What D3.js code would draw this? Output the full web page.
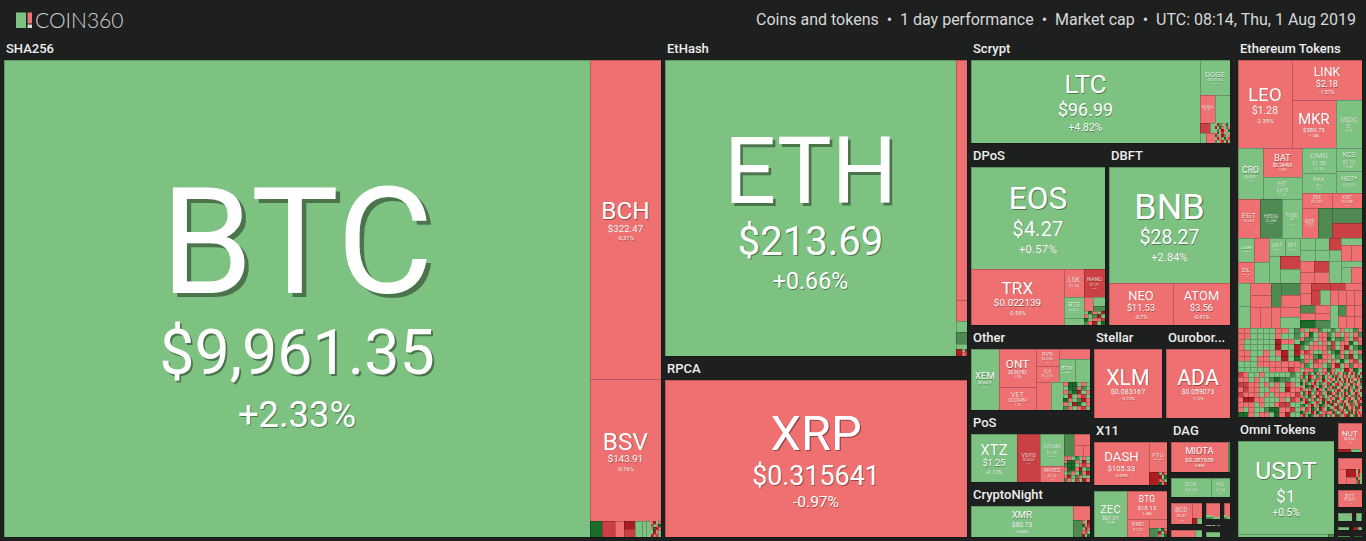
<!doctype html>
<html>
  <head>
    <meta charset="utf-8">
    <title>COIN360</title>
    <script src="https://cdn.jsdelivr.net/npm/d3@7/dist/d3.min.js"></script>
    <style>
      html, body { margin: 0; background: #1e2020; }
      svg { display: block; }
      text { font-family: Roboto, sans-serif; }
      .coin { fill: #fff; text-anchor: middle; }
      .groupName { fill: #eee; font-size: 13px; font-weight: 500; }
    </style>
  </head>
  <body>
    <div id="chart"></div>
  <script>
    var headerText = "Coins and tokens\u00a0\u00a0\u2022\u00a0\u00a01 day performance\u00a0\u00a0\u2022\u00a0\u00a0Market cap\u00a0\u00a0\u2022\u00a0\u00a0UTC: 08:14, Thu, 1 Aug 2019";

    // daily change buckets and their colours
    var changeSteps = [-10, -5, 0, 5, 10];
    var changeColours = ["#ab1f22", "#cb4143", "#ef7070", "#7dc281", "#4e8a52", "#1b6b2d"];

    var letterChange = { R: -12, M: -7, r: -1, g: 1, m: 7, G: 12 };

    function grid(weight, rows) {
      return ["v"].concat(rows.map(function(row) {
        return ["h"].concat(row.split("").map(function(ch) {
          return [weight / rows.length / row.length, letterChange[ch]];
        }));
      }));
    }

    function group(name, weight, coins) {
      return { name: name, weight: weight, coins: coins };
    }

    // leaf: [symbol, weight, change, price] or [weight, change]. "h" / "v" = side by side / stacked
    var mosaicBtc = ["rRgr", "MgrG", "rGRr", "gRrg", "RrMg"];
    var mosaicEth = ["gR", "rM"];
    var mosaicLtc = ["gRmgrGg", "RgGrgmr", "gmrRrgG", "rGgMgrg", "GrgRmgr", "gRrgGrM", "mgrMgRg"];
    var mosaicTrx = ["gGrgR", "rgmRg", "Gg rM".replace(" ", "r"), "mrRgG"];
    var mosaicOther = ["rGGgrg", "gGGrmg", "rmGRgr", "gRgrMg", "GrgmRr", "rgRGgr", "mrgrMg"];
    var mosaicPos = ["rrgmgrg", "rGGrgRg", "mGGgrMr", "rGGrRgm", "gmrgGrR", "rRgmrgg", "mrgMgRr"];
    var mosaicXmr = ["rgR", "GrM", "gRr", "rMg", "RgG"];
    var mosaicDash = ["gRr", "RgG", "rMg", "GrR"];
    var mosaicZec = ["gGr", "RgM", "rgG"];
    var mosaicNut = ["gRr", "rMg", "Grg", "mRg"];
    var mosaicDag = ["gr", "mg"];
    var mosaicSmall = ["rgMgGr"];

    var mosaicA = ["rrggggrrgm", "rrggggrggm", "rgggggRrrg", "rgggggRggR", "rrggrgrRgR", "rrgrrggRgG", "gggrrrrrrr", "gggggrrrMr"];
    var mosaicB = [
      "rgrrmggmgrggmr", "grGgrrmgrgrgrm", "rmmgrrGgmmrgMr", "GmgrgrgMgrrGgr", "mgrrrrmMgrRgmG",
      "rMrggrgmGrgrgr", "grrmGrrgmrmRgm", "mrgMrrgrgGgrMg", "rmgrrgmrRgrmrr", "grrmgrGrggRrGg"
    ];
    var mosaicC = [
      "Mrggrgggggmg", "rrgrggmGmmgg", "MMrrgrgrgMrg", "rMrrggrrgRrr", "MrrrgrgrrrrM",
      "rRRrrgggrgMr", "rrrgrggrMMgg", "rgrggmGGrrMg", "GGrgrrgGrRgg"
    ];
    var mosaicD1 = [
      "gRrmgGrgrMg", "rGgRrgmrGgr", "mgrGgMrgRrg", "GrmgrRgmgrM", "rgGmRrgGrgm", "MrgrmgRrgGr",
      "gGrRgmrMgrG", "rmgGrgRrmgr", "GrMgrGgrRmg", "grRmgrMgGrR", "mGgrRgrGmrg", "rgMrGmgRrgG",
      "GmrgRrGgrMr", "rRgGmrgMrGg"
    ];
    var mosaicD2 = [
      "RrGgMrgRmGrgRrGmgM", "gGrRmgrGrMgRgrGrRg", "MrgGrRgmRrGgMrgRrG", "rGRgmrMgGrRgrmGrgR",
      "GgrMRrgGmrgRGrMgrm", "rRmGgrGMrgRrmgGRrg", "mgGrRMgrGmRrgGrMgR", "RrgMGrmgRrGmgrRGrg",
      "gGRrmgMrGRgrMmGrRg", "MrgGRrgmGrMRgrGmrR", "rGmRgrMGrgRmGrgRMr", "GRrgMmGrRgrGMmrgRG",
      "grMGRrgmRGrgMrGmRr", "RmgrGMrRgGmrRgMGrg", "rGRmgrGMrgRmGrRgMr", "MgrRGmrgMRGrgmRGrM"
    ];

    // ----- coins per group, the weight is the tile size
    var sha256Coins = ["h",
      ["BTC", 2792.8, 2.33, "$9,961.35"],
      ["v",
        ["BCH", 227.7, -0.31, "$322.47"],
        ["BSV", 101.5, -0.76, "$143.91"],
        ["h", [2.06, 12], [2.08, -7], [1.61, -1],
          ["v", [0.97, -12], [0.82, -7]],
          [1.11, 1], [0.74, 1], [0.72, 1], grid(1.68, mosaicBtc)]]];

    var ethHashCoins = ["h",
      ["ETH", 862.8, 0.66, "$213.69"],
      ["v", [27.6, -0.5], [2.42, -1], [1.27, 2], [1.38, 7], [0.58, 1],
        ["h", [0.47, -12], grid(0.34, mosaicEth)]]];

    var rpcaCoins = ["XRP", 475.7, -0.97, "$0.315641"];

    var scryptCoins = ["h",
      ["LTC", 190.1, 4.82, "$96.99"],
      ["v",
        ["DOGE", 10.5, 1.12, "$0.003174"],
        ["h", ["MONA", 4.2, -1.1, "$1.27"], [4.2, 1]],
        ["h",
          ["v", ["h", [1, -7], [0.5, 1]], ["h", [0.6, 1], [0.9, -1]]],
          grid(3, mosaicLtc)]]];

    var dposCoins = ["v",
      ["EOS", 137.2, 0.57, "$4.27"],
      ["h",
        ["TRX", 52.4, -0.59, "$0.022139"],
        ["v",
          ["h", ["LSK", 5.6, -1.4, "$1.38"], ["NANO", 5.9, -5.6, "$1.27"]],
          ["h",
            ["v", ["BTS", 4.2, 1.6, "$0.0417"], [1.4, 1]],
            ["v",
              ["h", [1.27, -1], ["v", [1.06, 1], [0.62, 7]]],
              grid(2.95, mosaicTrx)]]]]];

    var dbftCoins = ["v",
      ["BNB", 139.2, 2.84, "$28.27"],
      ["h", ["NEO", 26.5, -0.7, "$11.53"], ["ATOM", 23.9, -0.91, "$3.56"]]];

    var otherCoins = ["h",
      ["XEM", 16.8, 1.4, "$0.0617"],
      ["v", ["ONT", 14.4, -1.13, "$0.96782"], ["VET", 8.7, -1.2, "$0.00484"]],
      ["v",
        ["h",
          ["v", ["RVN", 3.8, -1.8, "$0.0336"], ["ICX", 3.8, -0.9, "$0.2103"]],
          ["v", [3.05, -1], ["h", ["BTM", 3.57, 1.3, "$0.0822"], [3.48, 1]]]],
        ["h", [4.06, -1], [3.5, 1], grid(7.44, mosaicOther)]]];

    var posCoins = ["h",
      ["XTZ", 22.1, 1.13, "$1.25"],
      ["VSYS", 11, -7.4, "$0.0623"],
      ["v", ["QTUM", 7.5, 0.9, "$2.96"], ["WAVES", 3.8, -1.3, "$1.25"]],
      ["v",
        ["h", [2.2, 7], ["v", [1.815, -1], ["h", [0.99, -1], [0.825, -1]]]],
        grid(6.89, mosaicPos)]];

    var cryptoNightCoins = ["h",
      ["XMR", 30.6, 0.88, "$80.73"],
      ["v", [2.38, -1], ["h", [1.44, 7], grid(1.28, mosaicXmr)]]];

    var stellarCoins = ["XLM", 46.2, -0.72, "$0.083167"];
    var ouroborosCoins = ["ADA", 44.2, -1.72, "$0.059073"];

    var x11Coins = ["h",
      ["DASH", 23.65, -0.09, "$105.33"],
      ["v", ["FTO", 5.4, -1.1, "$0.0338"], ["h", [1.3, -12], grid(1.04, mosaicDash)]]];

    var equihashCoins = ["h",
      ["ZEC", 15.4, 1.2, "$67.01"],
      ["v",
        ["BTG", 11.06, -1.38, "$18.15"],
        ["h", ["KMD", 3.96, -1.1, "$1.01"],
          ["v", [1.575, -1], ["h", [0.81, 7], grid(0.765, mosaicZec)]]]]];

    var dagCoins = ["h", ["MIOTA", 17.1, -0.83, "$0.287659"], [0.6, 7]];
    var decredCoins = ["h", ["DCR", 7.5, 1.1, "$26.66"], ["HC", 3.7, 0.8, "$1.14"]];
    var bcdCoins = ["h", ["BCD", 4.2, -1.6, "$0.83"],
      ["v", [1.5, -1], ["h", [0.3, -12], [0.3, 1]]]];
    var bcdRowCoins = ["h", [1.61, -1], [0.49, 1]];
    var smallACoins = ["v", [1.56, -1], grid(0.52, mosaicDag)];
    var smallBCoins = grid(0.5, mosaicSmall);
    var smallCCoins = [1, 1];
    var smallDCoins = ["v", [0.72, -1], grid(0.24, mosaicDag)];

    var ethTokenTop = ["h",
      ["LEO", 47.5, -2.39, "$1.28"],
      ["v",
        ["LINK", 27.65, -1.57, "$2.18"],
        ["h", ["MKR", 21.1, -1.34, "$589.73"], ["USDC", 12.85, 0.3, "$1"]]]];

    var ethTokenLeft = ["v",
      ["h", ["CRO", 12.75, 1.2, "$0.0517"],
        ["v", ["BAT", 11.31, -1.21, "$0.24496"], ["HT", 8.58, 1.1, "$4.75"]]],
      ["h", ["EGT", 8.58, -1.4, "$0.0233"], ["HEDG", 8.58, 6.1, "$0.5988"], ["TUSD", 7.8, 0.4, "$1"]]];

    var ethTokenRight = ["v",
      ["h",
        ["v", ["OMG", 8.04, 1.3, "$1.55"], ["PAX", 6.7, 0.2, "$1"]],
        ["v", ["KCS", 5.83, 1.4, "$1.72"], ["HOT*", 5.83, 1.1, "$0.00118"]]],
      ["v",
        ["h", ["ZRX", 4.5, -1.1, "$0.2361"], ["KNT", 4.5, -1.3, "$0.0588"]],
        ["h", ["REP", 4.65, -1.5, "$12.92"], [4.35, 7],
          ["v", [4.5, 7], [4.5, -7]]]]];

    var ethTokenRow3 = ["h",
      ["h",
        ["v",
          ["h", ["LAMB", 3.84, 1.3, "$0.0381"], [3.6, -1]],
          ["h", ["ZIL", 3.36, -1.2, "$0.0127"], [3.15, 1]]],
        ["v",
          ["h", ["GNT", 2.79, 1.1, "$0.0661"], ["EKT", 2.79, 1.2, "$0.0473"]],
          ["h", [2.84, 1], ["v", [2.67, -7], [2.87, 1]]]]],
      ["v",
        ["h",
          ["v", ["h", [1.8, 1], [1.68, 1]], ["h", [1.65, 1], [1.54, 1]]],
          ["v", [1.44, -7], [1.32, 1]],
          ["v", [1.47, 1], ["h", [1.6, -1], [1.76, -1]]]],
        ["h",
          ["v", ["h", [1.54, -1], [1.65, -7]], ["h", [1.54, -1], [1.65, -1]]],
          [2.64, 1],
          ["v", [1.26, 1], ["h", [1.6, 1], [1.76, -1]]]]]];

    var ethTokenRow4 = ["h",
      ["h",
        ["v", [2.6, 1], [2.46, 1]],
        ["v",
          ["h", ["v", [2.47, -1], [2.47, -1]], [2.19, 7], ["v", [2.24, 7], [2.24, -1]]],
          ["h", [2.2, -1], [2.31, -1], [2, -1], ["v", [2.05, -1], [2.05, 1]]]]],
      ["v",
        ["h",
          ["v", [1.1, -1], [1.21, -1]],
          ["v", [1.33, -7], ["h", [1.26, -7], [1.4, 1]]],
          ["v", ["h", [1.05, -7], [1.19, -1]], ["h", [1.12, -1], [1.12, -1], [1.12, -1], [1.12, -1]]]],
        ["h",
          ["v", ["h", [1.2, 7], [1.2, -1]], ["h", [1.05, -1], [1.05, -1]], ["h", [1.2, 12], [1.2, 7]]],
          [1.84, 1],
          ["v", [0.88, 7], [0.96, -1]],
          ["v", [0.92, -1], [0.92, -1]],
          ["v", [0.92, -1], [0.92, -1]]]]];

    var ethereumTokenCoins = ["v",
      ethTokenTop,
      ["h", ethTokenLeft, ethTokenRight],
      ethTokenRow3,
      ethTokenRow4,
      ["h", grid(27.6, mosaicA), grid(27.6, mosaicB)],
      ["h", grid(27.6, mosaicC),
        ["h", grid(13.4, mosaicD1), grid(14.2, mosaicD2)]]];

    var omniCoins = ["v", ["USDT", 89.3, 0.5, "$1"], ["h", [2.7, 1], [0.18, 7]]];
    var nutCoins = ["v", ["NUT", 6.48, -1.2, "$0.0341"], ["h", [0.39, -12], [0.27, 1], [0.06, -1]]];
    var nextTokenCoins = ["v", [2.64, -1],
      ["h", [1.12, -1], ["v", [0.7, -12], [0.7, -1]], grid(0.84, mosaicNut)]];
    var bttCoins = ["BTT", 4.3, -1.1, "$0.00073"];
    var tinyACoins = ["h", [1, 1], grid(0.1, mosaicDag)];
    var tinyBCoins = ["h", [0.8, 1], [0.2, 7]];
    var tinyCCoins = [0.5, 1];
    var tinyDCoins = ["h", [0.5, -12], [0.4, 1]];
    var tinyECoins = [0.5, 7];
    var tinyFCoins = [0.5, 12];

    // ----- groups, the weight is the share of the page a group takes
    var groupTree = ["h",
      group("SHA256", 3311.6, sha256Coins),
      ["v", group("EtHash", 979.2, ethHashCoins), group("RPCA", 553.9, rpcaCoins)],
      ["v",
        group("Scrypt", 281.4, scryptCoins),
        ["h", group("DPoS", 252.1, dposCoins), group("DBFT", 226.6, dbftCoins)],
        ["h",
          ["v", group("Other", 104.6, otherCoins), group("PoS", 88.6, posCoins), group("CryptoNight", 67.7, cryptoNightCoins)],
          ["v",
            ["h", group("Stellar", 66.5, stellarCoins), group("Ourobor...", 63.7, ouroborosCoins)],
            ["h",
              ["v", group("X11", 51.59, x11Coins), group("", 40.04, equihashCoins)],
              ["v",
                group("DAG", 34, dagCoins),
                group("", 15.75, decredCoins),
                ["h",
                  ["v", group("", 9.45, bcdCoins), group("", 4.55, bcdRowCoins)],
                  ["v", group("", 3.96, smallACoins), group("", 1.26, smallBCoins), group("", 1.98, smallCCoins)],
                  ["v", group("", 2.2, smallDCoins), group("", 1.8, null)]]]]]]],
      group("", 20.04, null),
      ["v",
        group("Ethereum Tokens", 487.7, ethereumTokenCoins),
        ["h",
          group("Omni Tokens", 120, omniCoins),
          ["v",
            group("", 9.8, nutCoins),
            group("", 8.96, nextTokenCoins),
            group("", 6.44, bttCoins),
            ["h", group("", 2.52, tinyACoins), group("", 1.4, tinyBCoins)],
            ["h", group("", 1.35, tinyCCoins), group("", 1.17, tinyDCoins)],
            ["h", group("", 1.12, tinyECoins), group("", 0.84, tinyFCoins)]]]]];

    var width = 1366,
      height = 541;

    var svg = d3.select("#chart")
                .append("svg")
                .attr("width", width)
                .attr("height", height);

    var colour = d3.scaleThreshold().domain(changeSteps).range(changeColours);

    function children(d) {
      return Array.isArray(d) && (d[0] === "h" || d[0] === "v") ? d.slice(1) : null;
    }

    function tile(node, x0, y0, x1, y1) {
      (node.data[0] === "h" ? d3.treemapDice : d3.treemapSlice)(node, x0, y0, x1, y1);
    }

    function leafWeight(d) {
      if (children(d)) return 0;
      return typeof d[0] === "number" ? d[0] : d[1];
    }

    // logo
    var logo = svg.append("g");
    logo.append("rect").attr("x", 16).attr("y", 12.5).attr("width", 10).attr("height", 15.5).attr("fill", "#7dc281");
    logo.append("rect").attr("x", 27.5).attr("y", 12.5).attr("width", 4.5).attr("height", 11).attr("fill", "#ef7070");
    logo.append("rect").attr("x", 27.5).attr("y", 24.5).attr("width", 4.5).attr("height", 3.5).attr("fill", "#ddd");
    logo.append("text").attr("x", 35).attr("y", 27.5)
        .style("font-family", "Lato, sans-serif").style("font-weight", 300).style("font-size", "21px")
        .attr("fill", "#d0d0d0").text("COIN360");

    svg.append("text")
       .attr("x", 1356).attr("y", 25)
       .attr("text-anchor", "end")
       .attr("fill", "#d8d8d8")
       .style("font-size", "16px")
       .text(headerText);

    var groupRoot = d3.treemap()
      .tile(tile)
      .size([1362, 501])
      .round(true)(d3.hierarchy(groupTree, children).sum(function(d) { return d.weight || 0; }));

    var cells = svg.append("g").attr("shape-rendering", "crispEdges");
    var labels = svg.append("g");

    groupRoot.leaves().forEach(function(leaf) {
      var g = leaf.data;
      if (!g.coins) return;

      var top = g.name ? 20 : 2;
      var x = leaf.x0 + 2 + 2,
        y = leaf.y0 + 40 + top,
        w = leaf.x1 - leaf.x0 - 4,
        h = Math.max(1, leaf.y1 - leaf.y0 - top - 4);

      if (g.name) {
        labels.append("text")
              .attr("class", "groupName")
              .attr("x", x + 2)
              .attr("y", leaf.y0 + 40 + 13)
              .text(g.name);
      }

      var root = d3.treemap()
        .tile(tile)
        .size([w, h])
        .round(true)(d3.hierarchy(g.coins, children).sum(leafWeight));

      root.leaves().forEach(function(n) {
        var d = n.data,
          named = typeof d[0] === "string",
          change = named ? d[2] : d[1],
          cw = n.x1 - n.x0,
          ch = n.y1 - n.y0;

        if (cw <= 0 || ch <= 0) return;

        cells.append("rect")
             .attr("x", x + n.x0)
             .attr("y", y + n.y0)
             .attr("width", cw)
             .attr("height", ch)
             .attr("fill", colour(change))
             .attr("stroke", Math.min(cw, ch) >= 3 ? "rgba(0,0,0,0.22)" : "none");

        if (named) drawCoin(d, x + n.x0, y + n.y0, cw, ch);
      });
    });

    function drawCoin(d, x, y, w, h) {
      var symbol = d[0],
        change = d[2],
        price = d[3],
        changeText = (change > 0 ? "+" : "") + change + "%";

      var symbolSize = Math.min(0.62 * w / (0.6 * symbol.length), 0.31 * h);
      var priceSize = Math.min(0.53 * w / (0.55 * price.length), 0.12 * h + 8, 0.7 * symbolSize);
      var changeSize = 0.58 * priceSize;

      var block = symbolSize * 0.71 + priceSize * 1.3 + changeSize * 1.45;
      var base = y + h / 2 - block / 2 + symbolSize * 0.06 + symbolSize * 0.71;

      var lines = [
        { text: symbol, size: symbolSize, y: base },
        { text: price, size: priceSize, y: base + priceSize * 1.3 },
        { text: changeText, size: changeSize, y: base + priceSize * 1.3 + changeSize * 1.45 }
      ];

      labels.selectAll(null)
            .data(lines)
            .enter()
            .append("text")
            .attr("class", "coin")
            .attr("x", x + w / 2)
            .attr("y", function(l) { return l.y; })
            .style("font-size", function(l) { return l.size + "px"; })
            .style("fill-opacity", symbolSize < 8 ? 0.8 : 1)
            .style("text-shadow", function(l) {
              var off = Math.max(0.4, l.size * 0.03);
              return off + "px " + off + "px 0 rgba(0,0,0,0.4)";
            })
            .text(function(l) { return l.text; });
    }
  </script>
  </body>
</html>
